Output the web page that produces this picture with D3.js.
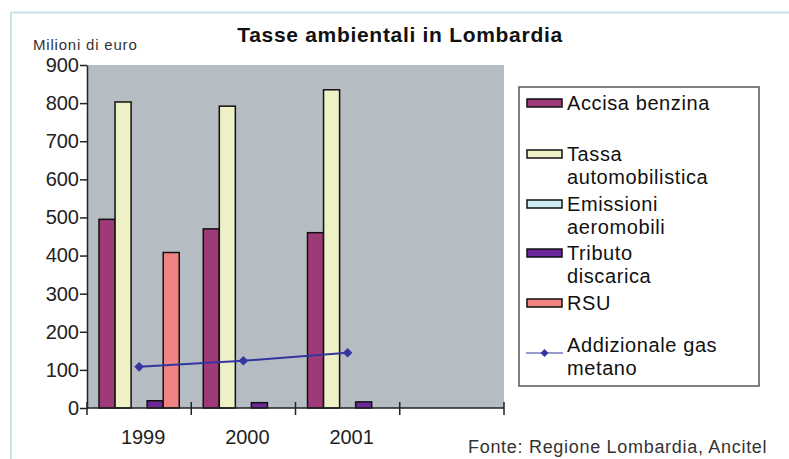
<!DOCTYPE html>
<html><head><meta charset="utf-8">
<script src="https://cdn.jsdelivr.net/npm/d3@7"></script>
<style>body{margin:0;background:#fff}svg{display:block;font-family:"Liberation Sans",Arial,sans-serif}</style>
</head><body><svg id="c" width="789" height="459"></svg>
<script>
const categories = ["1999", "2000", "2001", ""];
const years = ["1999", "2000", "2001"];
const accisaBenzina = [495, 470, 460];
const tassaAutomobilistica = [803, 792, 835];
const emissioniAeromobili = [0, 0, 0];
const tributoDiscarica = [19, 14, 16];
const rsu = [408, 0, 0];
const gasMetano = [108, 124, 145];
const yTicks = [0, 100, 200, 300, 400, 500, 600, 700, 800, 900];

const barSeries = [
  {name: "Accisa benzina", values: accisaBenzina, color: "#9e3a78"},
  {name: "Tassa automobilistica", values: tassaAutomobilistica, color: "#eef0c6"},
  {name: "Emissioni aeromobili", values: emissioniAeromobili, color: "#cdeef0"},
  {name: "Tributo discarica", values: tributoDiscarica, color: "#6a2898"},
  {name: "RSU", values: rsu, color: "#f08482"}
];

const svg = d3.select("#c");
svg.append("line").attr("x1",11).attr("x2",789).attr("y1",12.5).attr("y2",12.5).attr("stroke","#c6e6e8").attr("stroke-width",2);
svg.append("line").attr("x1",11).attr("x2",11).attr("y1",12).attr("y2",459).attr("stroke","#c6e6e8").attr("stroke-width",2);

const L = 87, R = 504, T = 65, B = 408;
const x = d3.scaleBand().domain(categories).range([L, R]).paddingInner(0).paddingOuter(0);
const x1 = d3.scaleBand().domain(barSeries.map(s => s.name)).range([12, x.bandwidth() - 12]).padding(0);
const y = d3.scaleLinear().domain([0, 900]).range([B, T]);

svg.append("rect").attr("x", L).attr("y", T).attr("width", R - L).attr("height", B - T).attr("fill", "#b5bdc3");

svg.append("text").attr("x", 400).attr("y", 42).attr("text-anchor","middle").attr("font-weight","bold").attr("font-size",21).attr("letter-spacing",0.7).attr("fill","#111").text("Tasse ambientali in Lombardia");
svg.append("text").attr("x", 33).attr("y", 50).attr("font-size",15).attr("letter-spacing",0.8).attr("fill","#333").text("Milioni di euro");

barSeries.forEach(s => {
  svg.append("g").selectAll("rect").data(years.map((yr, i) => ({yr, v: s.values[i]})).filter(d => d.v > 0))
    .join("rect")
    .attr("x", d => x(d.yr) + x1(s.name))
    .attr("y", d => y(d.v))
    .attr("width", x1.bandwidth())
    .attr("height", d => y(0) - y(d.v))
    .attr("fill", s.color).attr("stroke", "#111").attr("stroke-width", 1.5);
});

const lineColor = "#3535a0";
const pts = years.map((yr, i) => [x(yr) + x.bandwidth() / 2, y(gasMetano[i])]);
svg.append("path").attr("d", d3.line()(pts)).attr("fill","none").attr("stroke",lineColor).attr("stroke-width",2);
svg.append("g").selectAll("path").data(pts).join("path")
  .attr("transform", d => `translate(${d[0]},${d[1]})`)
  .attr("d", d3.symbol(d3.symbolDiamond2, 60)).attr("fill", lineColor);

const yAxis = svg.append("g").attr("transform", `translate(${L},0)`)
  .call(d3.axisLeft(y).tickValues(yTicks).tickSize(7).tickPadding(1).tickSizeOuter(0));
yAxis.select(".domain").attr("stroke","#222").attr("stroke-width",1.5);
yAxis.selectAll(".tick line").attr("stroke","#222").attr("stroke-width",1.5);
yAxis.selectAll("text").attr("font-size",20).attr("fill","#222").attr("font-family","Liberation Sans, Arial, sans-serif");

svg.append("line").attr("x1", L).attr("x2", R).attr("y1", B).attr("y2", B).attr("stroke","#222").attr("stroke-width",1.5);
const bounds = categories.map(c => x(c)).concat([x(categories[categories.length - 1]) + x.bandwidth()]);
svg.append("g").selectAll("line").data(bounds).join("line")
  .attr("x1", d => d).attr("x2", d => d).attr("y1", B - 6).attr("y2", B + 7)
  .attr("stroke","#222").attr("stroke-width",1.5);
svg.append("g").selectAll("text").data(years).join("text")
  .attr("x", d => x(d) + x.bandwidth() / 2 + 4).attr("y", 444)
  .attr("text-anchor","middle").attr("font-size",20).attr("fill","#222").text(d => d);

svg.append("text").attr("x", 468).attr("y", 453).attr("font-size",18).attr("letter-spacing",0.7).attr("fill","#333").text("Fonte: Regione Lombardia, Ancitel");

const lg = svg.append("g");
lg.append("rect").attr("x", 519).attr("y", 87).attr("width", 240).attr("height", 299).attr("fill","#fff").attr("stroke","#555").attr("stroke-width",1.5);
const legendItems = [
  {s: barSeries[0], lines: ["Accisa benzina"], cy: 103},
  {s: barSeries[1], lines: ["Tassa", "automobilistica"], cy: 154},
  {s: barSeries[2], lines: ["Emissioni", "aeromobili"], cy: 204},
  {s: barSeries[3], lines: ["Tributo", "discarica"], cy: 253},
  {s: barSeries[4], lines: ["RSU"], cy: 303}
];
legendItems.forEach(it => {
  lg.append("rect").attr("x", 527).attr("y", it.cy - 4).attr("width", 35).attr("height", 8).attr("fill", it.s.color).attr("stroke","#111").attr("stroke-width",1.5);
  it.lines.forEach((t, k) => {
    lg.append("text").attr("x", 567).attr("y", it.cy + 7 + k * 23).attr("font-size",20).attr("letter-spacing",0.6).attr("fill","#111").text(t);
  });
});
lg.append("line").attr("x1", 526).attr("x2", 563).attr("y1", 353).attr("y2", 353).attr("stroke", lineColor).attr("stroke-width",1);
lg.append("path").attr("transform","translate(544.5,353)").attr("d", d3.symbol(d3.symbolDiamond2, 40)).attr("fill", lineColor);
["Addizionale gas", "metano"].forEach((t, k) => {
  lg.append("text").attr("x", 567).attr("y", 352 + k * 23).attr("font-size",20).attr("letter-spacing",0.6).attr("fill","#111").text(t);
});
</script></body></html>
